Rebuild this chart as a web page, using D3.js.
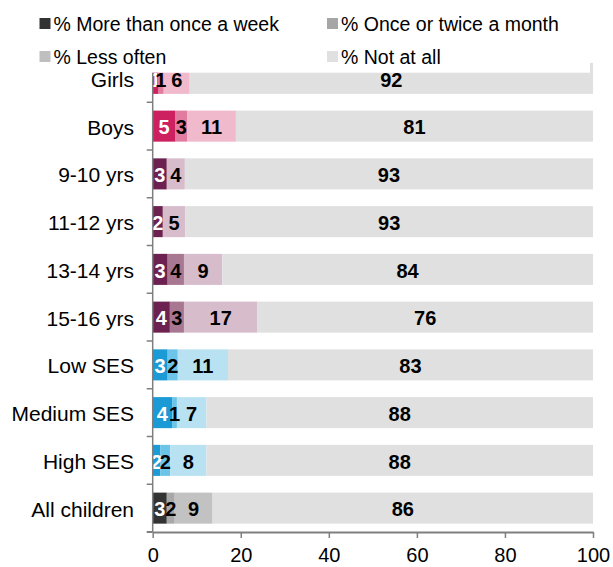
<!DOCTYPE html>
<html>
<head>
<meta charset="utf-8">
<script src="https://cdn.jsdelivr.net/npm/d3@7"></script>
<style>
  body { margin: 0; background: #fff; }
  svg text { font-family: "Liberation Sans", Arial, sans-serif; }
</style>
</head>
<body>
<div id="svg-container"></div>
<script>
// data
const categories = ['Girls', 'Boys', '9-10 yrs', '11-12 yrs', '13-14 yrs', '15-16 yrs',
    'Low SES', 'Medium SES', 'High SES', 'All children'];
const groups = ['gender', 'gender', 'age', 'age', 'age', 'age', 'ses', 'ses', 'ses', 'all'];
const moreThanWeekly = [1.2, 5.2, 3.2, 2.3, 3.4, 3.9, 3.4, 4.4, 1.7, 3.2];
const onceOrTwice = [1.3, 2.6, 0, 0, 3.7, 3.2, 2.3, 1.1, 2.3, 1.8];
const lessOften = [5.9, 11.1, 4.1, 5.1, 8.7, 16.7, 11.4, 6.7, 8.2, 8.6];
const notAtAll = [91.6, 81.1, 92.7, 92.6, 84.2, 76.2, 82.9, 87.8, 87.8, 86.4];
const seriesKeys = ['more', 'once', 'less', 'not'];
const seriesNames = ['% More than once a week', '% Once or twice a month', '% Less often', '% Not at all'];
const xTicks = [0, 20, 40, 60, 80, 100];

// colours per group, one per series
const palette = {
    gender: ['#cd2060', '#e27ba0', '#f0b9cc', '#e0e0e0'],
    age: ['#6d2150', '#a87792', '#d7bccb', '#e0e0e0'],
    ses: ['#1b9ad6', '#6cc4e8', '#b8e1f1', '#e0e0e0'],
    all: ['#333333', '#a8a8a8', '#c2c2c2', '#e0e0e0']
}
const legendColors = ['#333333', '#a6a6a6', '#bfbfbf', '#e0e0e0'];

// dimensions
const dim = {
    width: 613,
    height: 567,
    margin: { top: 54.5, right: 20, bottom: 35, left: 152.7 }
}

const svg = d3.select('#svg-container')
    .append('svg')
    .attr('width', dim.width)
    .attr('height', dim.height)

const rows = categories.map((c, i) => ({
    category: c,
    group: groups[i],
    more: moreThanWeekly[i],
    once: onceOrTwice[i],
    less: lessOften[i],
    not: notAtAll[i]
}))

const stacked = d3.stack().keys(seriesKeys)(rows);

// scales
const xScale = d3.scaleLinear()
    .domain([0, 100])
    .range([dim.margin.left, 593]);

const yScale = d3.scaleBand()
    .domain(categories)
    .range([dim.margin.top, 532])
    .paddingInner(0.35)
    .paddingOuter(0.175);

// bars
const bars = svg.append('g');
stacked.forEach((layer, k) => {
    bars.append('g')
        .selectAll('rect')
        .data(layer)
        .join('rect')
        .attr('x', d => xScale(d[0]))
        .attr('y', d => yScale(d.data.category))
        .attr('width', d => xScale(d[1]) - xScale(d[0]))
        .attr('height', yScale.bandwidth())
        .attr('fill', d => palette[d.data.group][k]);
});

// legend, white box over the top of the plot
const legend = svg.append('g');
legend.append('rect')
    .attr('x', 0).attr('y', 0)
    .attr('width', 590).attr('height', 72.7)
    .attr('fill', '#fff');
const legendPos = [[39.5, 23.5], [327, 23.5], [39.5, 56.5], [327, 56.5]];
seriesNames.forEach((name, i) => {
    const [lx, ly] = legendPos[i];
    legend.append('rect')
        .attr('x', lx).attr('y', ly - 5.5)
        .attr('width', 11).attr('height', 11)
        .attr('fill', legendColors[i]);
    legend.append('text')
        .attr('x', lx + 14).attr('y', ly)
        .attr('dy', '0.36em')
        .attr('font-size', 19.5)
        .attr('fill', '#000')
        .text(name);
});

// value labels
const labels = svg.append('g');
stacked.forEach((layer, k) => {
    labels.append('g')
        .selectAll('text')
        .data(layer.filter(d => Math.round(d[1] - d[0]) > 0))
        .join('text')
        .attr('x', d => (xScale(d[0]) + xScale(d[1])) / 2)
        .attr('y', d => yScale(d.data.category) + yScale.bandwidth() / 2 + 1)
        .attr('dy', '0.36em')
        .attr('text-anchor', 'middle')
        .attr('font-size', 20)
        .attr('font-weight', 'bold')
        .attr('fill', k === 0 ? '#fff' : '#000')
        .text(d => Math.round(d[1] - d[0]));
});

// y axis
const step = yScale.step();
const yAxis = svg.append('g');
yAxis.append('line')
    .attr('x1', xScale(0)).attr('x2', xScale(0))
    .attr('y1', 72.7).attr('y2', 532)
    .attr('stroke', '#7f7f7f').attr('stroke-width', 1.5);
yAxis.selectAll('.tick')
    .data(categories.slice(1))
    .join('line')
    .attr('x1', xScale(0) - 6).attr('x2', xScale(0))
    .attr('y1', d => yScale(d) - step * 0.175)
    .attr('y2', d => yScale(d) - step * 0.175)
    .attr('stroke', '#7f7f7f').attr('stroke-width', 1.5);
yAxis.selectAll('text')
    .data(categories)
    .join('text')
    .attr('x', 134)
    .attr('y', d => yScale(d) + yScale.bandwidth() / 2 + 1)
    .attr('dy', '0.36em')
    .attr('text-anchor', 'end')
    .attr('font-size', 21)
    .attr('fill', '#000')
    .text(d => d);

// x axis
const xAxis = svg.append('g')
    .attr('transform', 'translate(0, 532)')
    .call(d3.axisBottom(xScale).tickValues(xTicks).tickSize(6).tickSizeOuter(0).tickPadding(10));
xAxis.select('.domain').attr('stroke', '#7f7f7f').attr('stroke-width', 2);
xAxis.selectAll('.tick line').attr('stroke', '#7f7f7f').attr('stroke-width', 1.5);
xAxis.selectAll('.tick text')
    .attr('font-size', 20)
    .attr('fill', '#000')
    .attr('font-family', '"Liberation Sans", Arial, sans-serif');
xAxis.append('line')
    .attr('x1', xScale(0) - 6).attr('x2', xScale(0))
    .attr('stroke', '#7f7f7f').attr('stroke-width', 2);
</script>
</body>
</html>
